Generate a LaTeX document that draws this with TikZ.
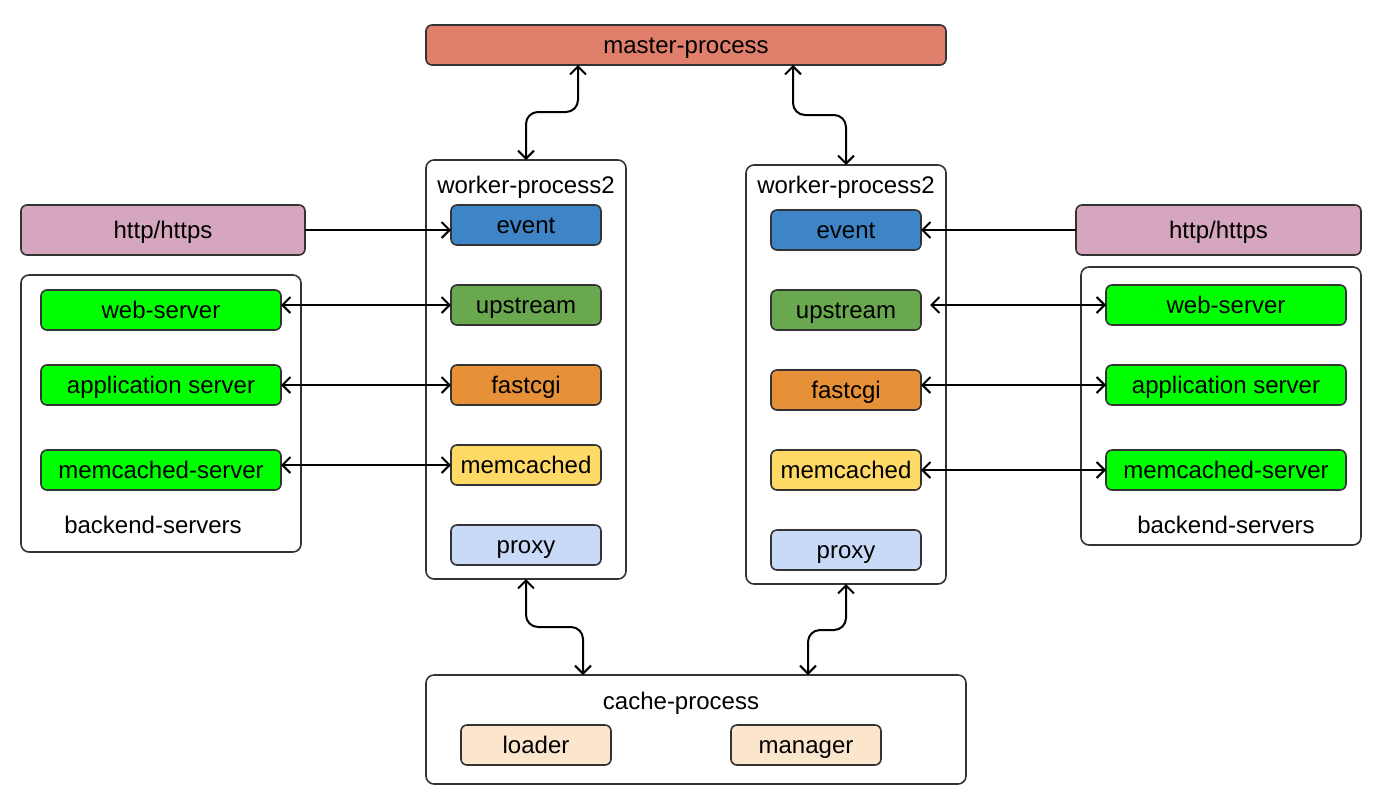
\documentclass[tikz,border=0pt]{standalone}
\usepackage{fontspec}
\setmainfont{Liberation Sans}
\usetikzlibrary{arrows.meta, positioning, calc}

\definecolor{linec}{RGB}{51,51,51}
\definecolor{masterc}{RGB}{224,127,108}
\definecolor{httpc}{RGB}{213,166,189}
\definecolor{eventc}{RGB}{61,133,198}
\definecolor{upc}{RGB}{106,168,79}
\definecolor{fastc}{RGB}{230,145,56}
\definecolor{memc}{RGB}{255,217,102}
\definecolor{proxyc}{RGB}{201,218,248}
\definecolor{srvc}{RGB}{0,255,0}
\definecolor{cachec}{RGB}{252,229,205}

\tikzset{
	txt/.style={text height=9.6pt, text depth=1.4pt, inner sep=0pt},
	box/.style={txt, draw=linec, line width=0.8pt, rounded corners=3pt, minimum height=20pt, outer sep=0pt},
	mod/.style={box, minimum width=75pt},
	srv/.style={box, minimum width=120pt, fill=srvc},
	frame/.style={draw=linec, line width=0.8pt, rounded corners=4pt, inner sep=0pt, outer sep=0pt},
	arr/.style={line width=1pt, >={Straight Barb[length=4pt, width=8pt]}}
}

\begin{document}
\begin{tikzpicture}[x=0.5pt, y=-0.5pt, font=\fontsize{12}{14}\selectfont]
		\useasboundingbox (0,0) rectangle (1381,805);
		% master
		\node[box, fill=masterc, minimum width=260pt] (master) at (686,45) {master-process};
		% workers
		\node[frame, minimum width=100pt, minimum height=209.5pt] (w1) at (526,369.5) {};
		\node[txt] (t1) at (526,185) {worker-process2};
		\node[mod, fill=eventc] (ev1) at (526,225) {event};
			\node[mod, fill=upc, below=20pt of ev1] (up1) {upstream};
			\node[mod, fill=fastc, below=20pt of up1] (fc1) {fastcgi};
			\node[mod, fill=memc, below=20pt of fc1] (mc1) {memcached};
			\node[mod, fill=proxyc, below=20pt of mc1] (px1) {proxy};
		\node[frame, minimum width=100pt, minimum height=209.5pt] (w2) at (846,374.5) {};
		\node[txt] (t2) at (846,185) {worker-process2};
		\node[mod, fill=eventc] (ev2) at (846,230) {event};
			\node[mod, fill=upc, below=20pt of ev2] (up2) {upstream};
			\node[mod, fill=fastc, below=20pt of up2] (fc2) {fastcgi};
			\node[mod, fill=memc, below=20pt of fc2] (mc2) {memcached};
			\node[mod, fill=proxyc, below=20pt of mc2] (px2) {proxy};
		% clients
		\node[box, fill=httpc, minimum width=142pt, minimum height=25pt] (http1) at (163,230) {http/https};
		\node[box, fill=httpc, minimum width=142.5pt, minimum height=25pt] (http2) at (1218.5,230) {http/https};
		% backends
		\node[frame, minimum width=140pt, minimum height=138.5pt] (b1) at (161,413.5) {};
		\node[srv] (web1) at (161,310) {web-server};
		\node[srv] (app1) at (161,385) {application server};
		\node[srv] (mem1) at (161,470) {memcached-server};
		\node[txt] (bt1) at (153,525) {backend-servers};
		\node[frame, minimum width=140pt, minimum height=139pt] (b2) at (1221,406) {};
		\node[srv] (web2) at (1226,305) {web-server};
		\node[srv] (app2) at (1226,385) {application server};
		\node[srv] (mem2) at (1226,470) {memcached-server};
		\node[txt] (bt2) at (1226,525) {backend-servers};
		% cache
		\node[frame, minimum width=270pt, minimum height=54.5pt] (cache) at (696,729.5) {};
		\node[txt] (ct) at (681,701) {cache-process};
		\node[mod, fill=cachec] (ld) at (536,745) {loader};
		\node[mod, fill=cachec] (mg) at (806,745) {manager};
		% links
		\coordinate (upgap) at ([xshift=4.5pt]up2.east |- web2.west);
		\draw[arr, ->] (http1.east) -- (http1.east -| ev1.west);
		\draw[arr, ->] (http2.west) -- (http2.west -| ev2.east);
		\foreach \from/\to in {up1.west -| web1.east/up1.west, app1.east/fc1.west, mc1.west -| mem1.east/mc1.west,
				upgap/web2.west, fc2.east |- app2.west/app2.west, mc2.east/mem2.west}
			\draw[arr, <->] (\from) -- (\to);
		\draw[arr, <->, rounded corners=6pt] ([xshift=-54pt]master.south) -- ++(0,47) -| (w1.north);
		\draw[arr, <->, rounded corners=6pt] ([xshift=53.5pt]master.south) -- ++(0,50) -| (w2.north);
		\draw[arr, <->, rounded corners=6pt] (w1.south) -- ++(0,48) -| ([xshift=-56.5pt]cache.north);
		\draw[arr, <->, rounded corners=6pt] (w2.south) -- ++(0,46) -| ([xshift=56pt]cache.north);
	\end{tikzpicture}
\end{document}
